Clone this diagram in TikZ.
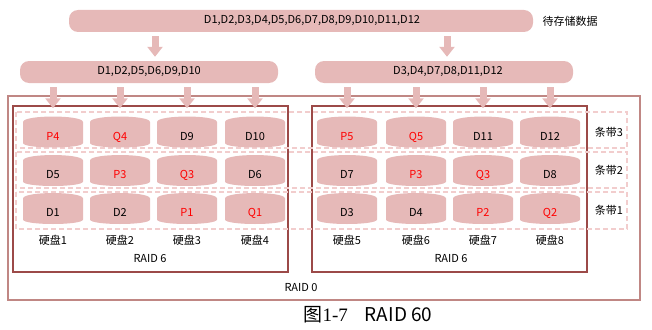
\documentclass[tikz,border=0pt]{standalone}
\usepackage{fontspec}
\setmainfont{Noto Sans CJK SC}
\newfontfamily\capserif{Liberation Serif}
\usetikzlibrary{arrows.meta, positioning, calc}
\definecolor{diskpink}{HTML}{E6B9B8}
\definecolor{dashpink}{HTML}{F2CDCD}
\definecolor{raidzero}{HTML}{C08784}
\definecolor{raidsix}{HTML}{9C4A48}

\begin{document}
\begin{tikzpicture}[x=1pt, y=-1pt, font=\fontsize{11}{13}\selectfont,
    bar/.style={fill=diskpink, rounded corners=9pt, minimum height=22pt, inner sep=0pt},
    bigarrow/.style={diskpink, line width=7pt, -{Triangle[width=15pt, length=10pt]}},
    disk/.style={minimum width=60pt, minimum height=31pt, inner sep=0pt,
        path picture={\fill[diskpink]
            ([yshift=-5.5pt]path picture bounding box.north west)
            .. controls ([yshift=1.8pt]path picture bounding box.north west) and ([yshift=1.8pt]path picture bounding box.north east) .. ([yshift=-5.5pt]path picture bounding box.north east)
            -- ([yshift=4.5pt]path picture bounding box.south east)
            .. controls ([yshift=-1.5pt]path picture bounding box.south east) and ([yshift=-1.5pt]path picture bounding box.south west) .. ([yshift=4.5pt]path picture bounding box.south west)
            -- cycle;}},
    stripe/.style={dashpink, line width=1.2pt, dash pattern=on 5pt off 3pt}]
    \useasboundingbox (0,0) rectangle (652,329);

    % RAID 0 and the two RAID 6 groups
    \draw[raidzero, line width=1.3pt] (8,96) rectangle (640,300);
    \draw[raidsix, line width=1.1pt] (13,106) rectangle (288,272);
    \draw[raidsix, line width=1.1pt] (312,106) rectangle (587,272);
    \node (raid6a) at (150,259) {RAID 6};
    \node (raid6b) at (451,259) {RAID 6};
    \node (raid0) at (301,288) {RAID 0};

    % Stripes
    \draw[stripe] (16,112) rectangle (627,148);
    \draw[stripe] (16,152) rectangle (627,188);
    \draw[stripe] (16,192) rectangle (627,229);
    \node (st3) at (609,132) {条带3};
    \node (st2) at (609,170) {条带2};
    \node (st1) at (609,210) {条带1};

    % Data bars
    \node[bar, minimum width=464pt] (all) at (301,21) {\hspace{22pt}D1,D2,D3,D4,D5,D6,D7,D8,D9,D10,D11,D12};
    \node[right] (store) at (539,21) {待存储数据};
    \node[bar, minimum width=258pt] (left) at (149,72) {D1,D2,D5,D6,D9,D10\hspace{8pt}};
    \node[bar, minimum width=258pt] (right) at (444,72) {\hspace{8pt}D3,D4,D7,D8,D11,D12};

    % Disks
    \foreach \i/\x/\t/\c in {1/53/P4/red, 2/120/Q4/red, 3/187/D9/black, 4/255/D10/black,
            5/347/P5/red, 6/416/Q5/red, 7/483/D11/black, 8/550/D12/black}
        \node[disk, text=\c] (s3c\i) at (\x,132) {\raisebox{-8pt}[0pt][0pt]{\t}};
    \foreach \i/\x/\t/\c in {1/53/D5/black, 2/120/P3/red, 3/187/Q3/red, 4/255/D6/black,
            5/347/D7/black, 6/416/P3/red, 7/483/Q3/red, 8/550/D8/black}
        \node[disk, text=\c] (s2c\i) at (\x,170.5) {\raisebox{-8pt}[0pt][0pt]{\t}};
    \foreach \i/\x/\t/\c in {1/53/D1/black, 2/120/D2/black, 3/187/P1/red, 4/255/Q1/red,
            5/347/D3/black, 6/416/D4/black, 7/483/P2/red, 8/550/Q2/red}
        \node[disk, text=\c] (s1c\i) at (\x,208.5) {\raisebox{-8pt}[0pt][0pt]{\t}};
    \foreach \i in {1,...,8}
        \node (hd\i) at (s1c\i |- 0,240) {硬盘\i};

    % Arrows
    \draw[bigarrow, shorten <=4pt, shorten >=4pt] ([xshift=6pt]left.north |- all.south) -- ([xshift=6pt]left.north);
    \draw[bigarrow, shorten <=4pt, shorten >=4pt] ([xshift=3pt]right.north |- all.south) -- ([xshift=3pt]right.north);
    \foreach \i in {1,...,4}
        \draw[bigarrow, shorten <=4pt, shorten >=8pt] (s3c\i |- left.south) -- (s3c\i.north);
    \foreach \i in {5,...,8}
        \draw[bigarrow, shorten <=4pt, shorten >=8pt] (s3c\i |- right.south) -- (s3c\i.north);

    % Caption
    \node (cap) at (368,315) {\fontsize{19}{22}\selectfont 图{\capserif 1-7}\hspace{0.9em}RAID 60};
\end{tikzpicture}
\end{document}
